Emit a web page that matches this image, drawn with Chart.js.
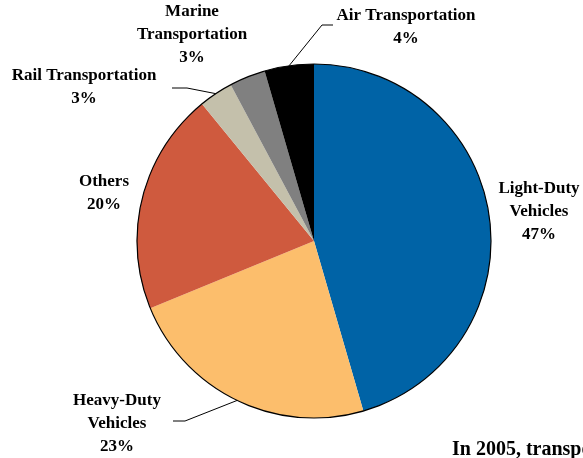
<!DOCTYPE html>
<html>
<head>
<meta charset="utf-8">
<script src="https://cdn.jsdelivr.net/npm/chart.js@4"></script>
<style>
  body { margin: 0; background: #fff; }
  #wrap { position: relative; width: 583px; height: 458px; }
</style>
</head>
<body>
<div id="wrap"><canvas id="modeChart" width="583" height="458"></canvas></div>
<script>
let categories = ["Light-Duty Vehicles", "Heavy-Duty Vehicles", "Others", "Rail Transportation", "Marine Transportation", "Air Transportation"]
let shares = [45.5, 23.3, 20.3, 3.1, 3.3, 4.5]
let shareLabels = ["47%", "23%", "20%", "3%", "3%", "4%"]
let sliceColors = ["#0063a6", "#fcbe6c", "#cf5a3e", "#c4c0ab", "#808080", "#000000"]

// where each label sits: lines of text, centre x, first line y, optional leader elbow
let labelSpots = [
    { lines: ["Light-Duty", "Vehicles"], x: 539, y: 189 },
    { lines: ["Heavy-Duty", "Vehicles"], x: 117, y: 401, leader: [[185, 421], [173, 421]] },
    { lines: ["Others"], x: 104, y: 182 },
    { lines: ["Rail Transportation"], x: 84, y: 76, leader: [[187, 88], [172, 88]] },
    { lines: ["Marine", "Transportation"], x: 192, y: 12 },
    { lines: ["Air Transportation"], x: 406, y: 16, leader: [[322, 25], [333, 25]] },
]

let pieLabels = {
    id: "pieLabels",
    afterDatasetsDraw(chart) {
        let ctx = chart.ctx
        let arcs = chart.getDatasetMeta(0).data
        ctx.save()
        // outer rim
        let a0 = arcs[0]
        ctx.beginPath()
        ctx.arc(a0.x, a0.y, a0.outerRadius, 0, Math.PI * 2)
        ctx.strokeStyle = "#000"
        ctx.lineWidth = 1.2
        ctx.stroke()

        ctx.font = "bold 17px 'Liberation Serif'"
        ctx.fillStyle = "#000"
        ctx.textAlign = "center"
        ctx.textBaseline = "middle"
        arcs.forEach((arc, i) => {
            let spot = labelSpots[i]
            let lines = spot.lines.concat([shareLabels[i]])
            lines.forEach((t, k) => ctx.fillText(t, spot.x, spot.y + k * 23))
            if (spot.leader) {
                let mid = (arc.startAngle + arc.endAngle) / 2
                ctx.beginPath()
                ctx.moveTo(arc.x + Math.cos(mid) * arc.outerRadius, arc.y + Math.sin(mid) * arc.outerRadius)
                spot.leader.forEach(p => ctx.lineTo(p[0], p[1]))
                ctx.lineWidth = 1
                ctx.stroke()
            }
        })

        ctx.textAlign = "left"
        ctx.font = "bold 20px 'Liberation Serif'"
        ctx.fillText("In 2005, transportation accounted for", 452, 450)
        ctx.restore()
    }
}

let canvasElement = document.getElementById("modeChart")
let config = {
    type: "pie",
    data: {
        labels: categories,
        datasets: [{
            data: shares,
            backgroundColor: sliceColors,
            borderWidth: 0,
        }],
    },
    options: {
        responsive: false,
        animation: false,
        layout: { padding: { top: 64, bottom: 40, left: 137, right: 92 } },
        plugins: {
            legend: { display: false },
            tooltip: { enabled: false },
        },
    },
    plugins: [pieLabels],
}
let modeChart = new Chart(canvasElement, config)
</script>
</body>
</html>
